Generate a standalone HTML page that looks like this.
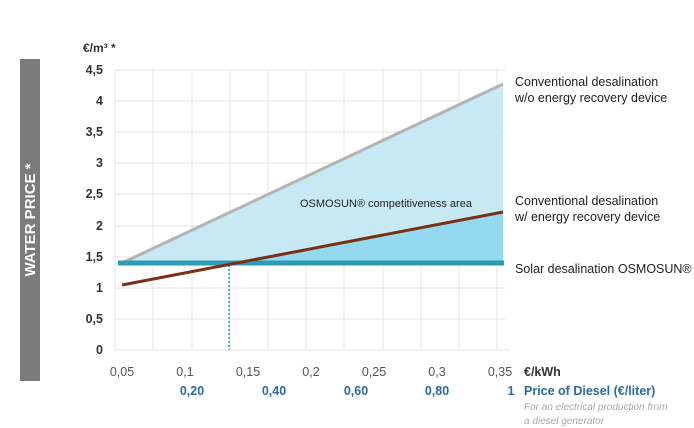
<!DOCTYPE html>
<html><head><meta charset="utf-8"><style>
body{margin:0;background:#fff;}
svg{display:block;font-family:"Liberation Sans",sans-serif;}
</style></head><body>
<svg width="694" height="428" viewBox="0 0 694 428">
<rect x="20" y="59" width="20" height="322" fill="#7b7b7e"/>
<text transform="translate(35,220) rotate(-90)" text-anchor="middle" fill="#fff" font-size="15" font-weight="bold">WATER PRICE *</text>
<g stroke="#e4e4e4" stroke-width="1">
<line x1="115" y1="70" x2="505" y2="70"/><line x1="115" y1="101" x2="505" y2="101"/><line x1="115" y1="132" x2="505" y2="132"/><line x1="115" y1="163" x2="505" y2="163"/><line x1="115" y1="194" x2="505" y2="194"/><line x1="115" y1="226" x2="505" y2="226"/><line x1="115" y1="257" x2="505" y2="257"/><line x1="115" y1="288" x2="505" y2="288"/><line x1="115" y1="319" x2="505" y2="319"/><line x1="115" y1="350" x2="510" y2="350"/>
<line x1="115" y1="70" x2="115" y2="350"/><line x1="153" y1="70" x2="153" y2="350"/><line x1="192" y1="70" x2="192" y2="350"/><line x1="230" y1="70" x2="230" y2="350"/><line x1="268" y1="70" x2="268" y2="350"/><line x1="306" y1="70" x2="306" y2="350"/><line x1="344" y1="70" x2="344" y2="350"/><line x1="383" y1="70" x2="383" y2="350"/><line x1="421" y1="70" x2="421" y2="350"/><line x1="459" y1="70" x2="459" y2="350"/><line x1="497" y1="70" x2="497" y2="350"/>
</g>
<polygon points="122,263 503,84 503,263" fill="#c6e9f4"/>
<polygon points="227,263 503,212 503,263" fill="#93d9ef"/>
<line x1="229" y1="265" x2="229" y2="350" stroke="#3db3d8" stroke-width="2" stroke-dasharray="2,2"/>
<line x1="122" y1="263" x2="503" y2="84" stroke="#b3b3b3" stroke-width="3"/>
<line x1="118" y1="263" x2="504" y2="263" stroke="#2d9bb3" stroke-width="5"/>
<line x1="122" y1="285" x2="503" y2="212" stroke="#7a3014" stroke-width="3"/>
<g font-size="12.5" fill="#333" font-weight="bold" text-anchor="end">
<text x="103" y="74">4,5</text><text x="103" y="105">4</text><text x="103" y="136">3,5</text><text x="103" y="167">3</text><text x="103" y="198">2,5</text><text x="103" y="230">2</text><text x="103" y="261">1,5</text><text x="103" y="292">1</text><text x="103" y="323">0,5</text><text x="103" y="354">0</text>
</g>
<text x="83" y="52" font-size="12" font-weight="bold" fill="#333">€/m³ *</text>
<g font-size="12.5" fill="#555" text-anchor="middle">
<text x="122" y="376">0,05</text><text x="185" y="376">0,1</text><text x="248" y="376">0,15</text><text x="311" y="376">0,2</text><text x="374" y="376">0,25</text><text x="437" y="376">0,3</text><text x="500" y="376">0,35</text>
</g>
<g font-size="12.5" fill="#2b6aa6" font-weight="bold" text-anchor="middle">
<text x="192" y="395">0,20</text><text x="274" y="395">0,40</text><text x="356" y="395">0,60</text><text x="437" y="395">0,80</text><text x="511" y="395">1</text>
</g>
<text x="524" y="376" font-size="12.5" font-weight="bold" fill="#333">€/kWh</text>
<text x="524" y="395" font-size="12.5" font-weight="bold" fill="#2b6aa6">Price of Diesel (€/liter)</text>
<text x="524" y="410" font-size="10" font-style="italic" fill="#aaa">For an electrical production from</text>
<text x="524" y="424" font-size="10" font-style="italic" fill="#aaa">a diesel generator</text>
<g font-size="12.5" fill="#222">
<text x="515" y="86">Conventional desalination</text><text x="515" y="102">w/o energy recovery device</text>
<text x="515" y="205">Conventional desalination</text><text x="515" y="221">w/ energy recovery device</text>
<text x="515" y="273">Solar desalination OSMOSUN®</text>
<text x="300" y="207" font-size="11">OSMOSUN® competitiveness area</text>
</g>
</svg>
</body></html>
